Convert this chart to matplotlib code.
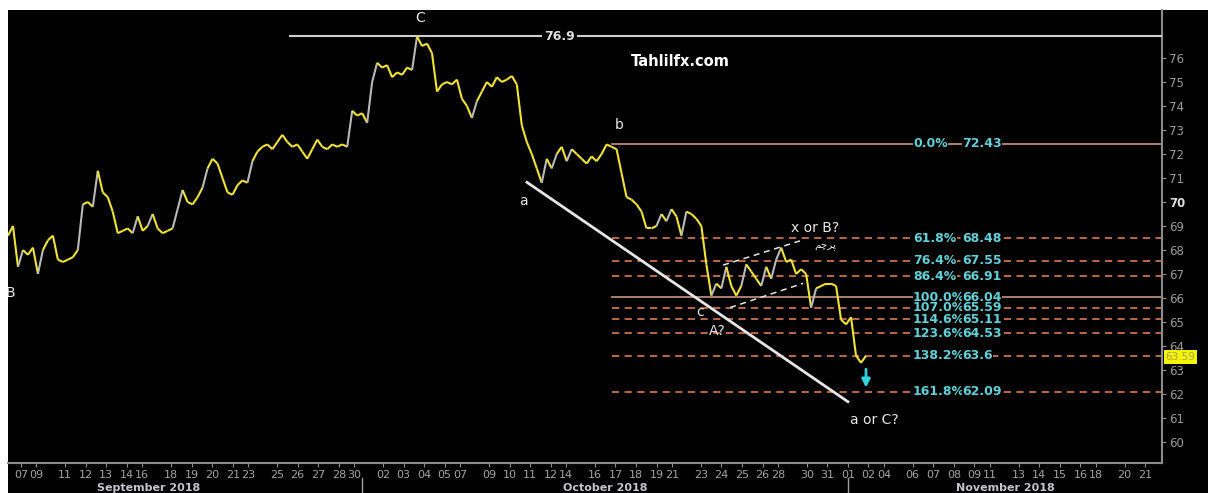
import datetime as dt
import numpy as np
import matplotlib
matplotlib.use('Agg')
import matplotlib.pyplot as plt
from matplotlib.collections import LineCollection
from matplotlib.patches import Rectangle

# price path, every quarter trading day (Sep 6 -> Nov 1)
prices = [68.6, 69.0, 67.3, 68.0, 67.8, 68.1, 67.0, 68.0, 68.4, 68.6,
          67.6, 67.5, 67.6, 67.7, 68.0, 69.9, 70.0, 69.8, 71.3, 70.4,
          70.2, 69.6, 68.7, 68.8, 68.9, 68.7, 69.4, 68.8, 69.0, 69.5,
          68.9, 68.7, 68.8, 68.9, 69.7, 70.5, 70.0, 69.9, 70.2, 70.6,
          71.4, 71.8, 71.6, 71.0, 70.4, 70.3, 70.7, 70.9, 70.8, 71.7,
          72.1, 72.3, 72.4, 72.2, 72.5, 72.8, 72.5, 72.3, 72.4, 72.1,
          71.8, 72.2, 72.6, 72.3, 72.2, 72.4, 72.3, 72.4, 72.3, 73.8,
          73.6, 73.7, 73.3, 75.0, 75.8, 75.6, 75.7, 75.2, 75.4, 75.3,
          75.6, 75.5, 76.9, 76.5, 76.6, 76.2, 74.6, 74.9, 75.0, 74.9,
          75.1, 74.3, 74.0, 73.5, 74.2, 74.6, 75.0, 74.8, 75.2, 75.0,
          75.1, 75.25, 74.9, 73.2, 72.5, 72.0, 71.4, 70.8, 71.8, 71.4,
          72.0, 72.3, 71.7, 72.2, 72.0, 71.8, 71.6, 71.9, 71.7, 72.0,
          72.4, 72.3, 72.2, 71.2, 70.2, 70.1, 69.9, 69.6, 68.9, 68.9,
          69.0, 69.5, 69.2, 69.7, 69.4, 68.6, 69.6, 69.5, 69.3, 69.0,
          67.4, 66.1, 66.6, 66.4, 67.3, 66.5, 66.1, 66.5, 67.4, 67.1,
          66.8, 66.5, 67.3, 66.8, 67.6, 68.1, 67.5, 67.6, 67.0, 67.2,
          67.0, 65.6, 66.4, 66.5, 66.6, 66.6, 66.5, 65.1, 64.9, 65.2,
          63.6, 63.3, 63.59]

sep_days = [7, 9, 11, 12, 13, 14, 16, 18, 19, 20, 21, 23, 25, 26, 27, 28, 30]
oct_days = [2, 3, 4, 5, 7, 9, 10, 11, 12, 14, 16, 17, 18, 19, 21, 23, 24, 25, 26, 28, 30, 31]
nov_days = [1, 2, 4, 6, 7, 8, 9, 11, 13, 14, 15, 16, 18, 20, 21]
month_names = ['September 2018', 'October 2018', 'November 2018']

fib_pct = ['0.0%', '61.8%', '76.4%', '86.4%', '100.0%', '107.0%', '114.6%', '123.6%', '138.2%', '161.8%']
fib_val = [72.43, 68.48, 67.55, 66.91, 66.04, 65.59, 65.11, 64.53, 63.6, 62.09]
fib_lbl = ['72.43', '68.48', '67.55', '66.91', '66.04', '65.59', '65.11', '64.53', '63.6', '62.09']

peak_c = 76.9
last_price = 63.59

# trading-time weight of each weekday (Mon..Sun), Bloomberg-like compressed axis
day_weight = {0: 1.0, 1: 1.0, 2: 1.0, 3: 1.0, 4: 0.75, 5: 0.0, 6: 0.4}
origin = dt.date(2018, 9, 7)


def bpos(d):
    t = 0.0
    cur = origin
    while cur < d:
        t += day_weight[cur.weekday()]
        cur += dt.timedelta(days=1)
    return t


W, H = 1208, 493
fig = plt.figure(figsize=(W / 100, H / 100), dpi=100, facecolor='white')
fig.patches.append(Rectangle((8 / W, 0), 1 - 8 / W, (H - 10) / H, transform=fig.transFigure,
                             facecolor='black', edgecolor='none', zorder=-10))
ax = fig.add_axes([8 / W, 30 / H, 1154 / W, 453 / H])
ax.set_facecolor('black')

x_left, x_right = -0.63, 55.47
ax.set_xlim(x_left, x_right)
ax.set_ylim(59.125, 78.0)

# price line, yellow with grey on sharp rallies
t = np.linspace(x_left, bpos(dt.date(2018, 11, 2)) - 0.12, len(prices))
p = np.array(prices)
segs = np.stack([np.column_stack([t[:-1], p[:-1]]), np.column_stack([t[1:], p[1:]])], axis=1)
cols = ['#b9b9b9' if d > 0.45 else '#f0e236' for d in np.diff(p)]
ax.add_collection(LineCollection(segs, colors=cols, linewidths=1.5, zorder=5))

# 76.9 high line
ax.plot([13.08, x_right], [peak_c, peak_c], color='#cfcfcf', lw=1.5, zorder=3)
ax.text(26.2, peak_c, '76.9', color='#e0e0e0', fontsize=9, fontweight='bold', ha='center', va='center',
        bbox=dict(facecolor='black', edgecolor='none', pad=1.5), zorder=4)

# fibonacci levels from b
b_x = 28.73
for pc, v, lb in zip(fib_pct, fib_val, fib_lbl):
    solid = pc in ('0.0%', '100.0%')
    ax.plot([b_x, x_right], [v, v], color='#b88a74' if solid else '#c8714f',
            lw=1.3, ls='-' if solid else (0, (4, 3)), zorder=2)
    ax.text(43.36, v, pc, color='#62d0d6', fontsize=9, fontweight='bold', ha='left', va='center',
            bbox=dict(facecolor='black', edgecolor='none', pad=0.3), zorder=4)
    ax.text(45.75, v, lb, color='#62d0d6', fontsize=9, fontweight='bold', ha='left', va='center',
            bbox=dict(facecolor='black', edgecolor='none', pad=0.3), zorder=4)

# trend line and flag channel
ax.plot([24.6, 40.2], [70.82, 61.68], color='#e6e6e6', lw=2, zorder=4)
ax.plot([34.13, 37.87], [67.37, 68.38], color='#e6e6e6', lw=1.1, ls=(0, (4, 3)), zorder=4)
ax.plot([34.47, 38.02], [65.6, 66.61], color='#e6e6e6', lw=1.1, ls=(0, (4, 3)), zorder=4)

# projection arrow
ax.annotate('', xy=(41.08, 62.15), xytext=(41.08, 63.15),
            arrowprops=dict(arrowstyle='-|>', color='#2fd3e0', lw=2, mutation_scale=12), zorder=6)

# wave labels
lab = dict(color='#e8e8e8', fontsize=10, ha='center', va='center', zorder=7)
ax.text(19.4, 77.68, 'C', **lab)
ax.text(29.1, 73.22, 'b', **lab)
ax.text(24.45, 70.06, 'a', **lab)
ax.text(33.0, 65.43, 'c', **lab)
ax.text(33.84, 64.63, 'A?', **lab)
ax.text(38.6, 68.93, 'x or B?', **lab)
ax.text(41.5, 60.93, 'a or C?', **lab)
ax.text(-0.53, 66.19, 'B', clip_on=True, **lab)
ax.text(39.1, 68.17, '\ufee2\ufb7c\ufeae\ufb58', color='#e8e8e8', fontsize=7.5, ha='center', va='center',
        family=['DejaVu Sans'], bbox=dict(facecolor='black', edgecolor='none', pad=1), zorder=7)
ax.text(32.04, 75.87, 'Tahlilfx.com', color='white', fontsize=10.5, fontweight='bold',
        ha='center', va='center', zorder=7)

# axes styling
for s in ('top', 'left'):
    ax.spines[s].set_visible(False)
ax.spines['right'].set_color('#8c8c8c')
ax.spines['right'].set_linewidth(1.5)
ax.spines['bottom'].set_color('#8c8c8c')
ax.spines['bottom'].set_linewidth(1.5)

ax.yaxis.tick_right()
ax.set_yticks(range(60, 77))
ax.tick_params(axis='y', colors='#8c8c8c', labelcolor='#9c9c9c', labelsize=8.5, length=3, pad=2)
for tl in ax.get_yticklabels():
    if tl.get_text() == '70':
        tl.set_color('#e0e0e0')
        tl.set_fontweight('bold')

tick_dates = ([dt.date(2018, 9, d) for d in sep_days] + [dt.date(2018, 10, d) for d in oct_days]
              + [dt.date(2018, 11, d) for d in nov_days])
ax.set_xticks([bpos(d) for d in tick_dates])
ax.set_xticklabels(['%02d' % d.day for d in tick_dates])
ax.tick_params(axis='x', colors='#8c8c8c', labelcolor='#a4a4a4', labelsize=8, length=3, pad=2)

# month labels and separators
trans = ax.get_xaxis_transform()
oct1, nov1 = bpos(dt.date(2018, 10, 1)), bpos(dt.date(2018, 11, 1))
for xs in (oct1, nov1):
    ax.plot([xs, xs], [-0.033, -0.07], color='#a0a0a0', lw=1, transform=trans, clip_on=False)
for name, xm in zip(month_names, [6.2, (oct1 + nov1) / 2, (nov1 + x_right) / 2]):
    ax.text(xm, -0.056, name, color='#c4c4cc', fontsize=8, fontweight='bold', ha='center', va='center',
            transform=trans)

# last price tag
ax.text(1.003, last_price - 0.05, '%.2f' % last_price, transform=ax.get_yaxis_transform(), color='#a8a050',
        fontsize=7.5, ha='left', va='center', clip_on=False,
        bbox=dict(facecolor='#f5f500', edgecolor='none', boxstyle='square,pad=0.15'), zorder=8)

fig.savefig('out.png', dpi=100, facecolor=fig.get_facecolor())
